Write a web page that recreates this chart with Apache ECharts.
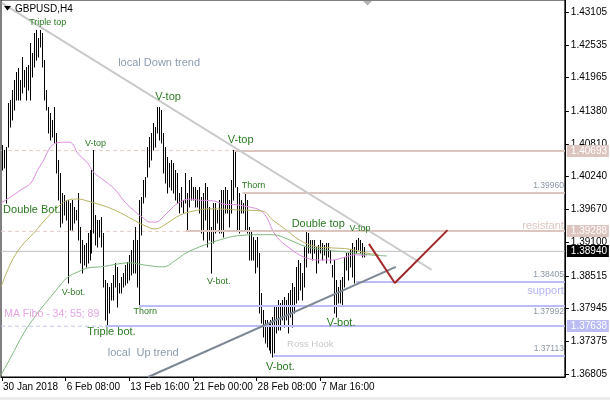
<!DOCTYPE html>
<html><head><meta charset="utf-8">
<script src="https://cdn.jsdelivr.net/npm/echarts@6/dist/echarts.min.js"></script>
<style>html,body{margin:0;padding:0;background:#fff;}#c{width:610px;height:400px;}</style>
</head><body><div id="c"></div>
<script>
// ---------- data ----------
const xTickIndex = [0, 32, 64, 96, 128, 160];
const xTickLabels = ['30 Jan 2018', '6 Feb 08:00', '13 Feb 16:00', '21 Feb 00:00', '28 Feb 08:00', '7 Mar 16:00'];
const yTickValues = [1.43105, 1.42535, 1.41965, 1.41380, 1.40810, 1.40240, 1.39670, 1.39100, 1.38515, 1.37945, 1.37375, 1.36805];

const barHigh = [
1.4079,1.4070,1.4076,1.4152,1.4157,1.4175,1.4192,1.4206,1.4213,1.4192,
1.4232,1.4210,1.4215,1.4218,1.4257,1.4239,1.4274,1.4279,1.4265,1.4279,
1.4274,1.4227,1.4175,1.4145,1.4135,1.4123,1.4145,1.4100,1.4053,1.4030,
1.3996,1.3992,1.3983,1.3983,1.3978,1.3983,1.3971,1.3966,1.3996,1.3936,
1.3914,1.3905,1.3909,1.3926,1.3931,1.4036,1.4070,1.3957,1.3949,1.3949,
1.3954,1.3926,1.3844,1.3839,1.3832,1.3839,1.3853,1.3874,1.3867,1.3839,
1.3849,1.3856,1.3870,1.3876,1.3888,1.3896,1.3914,1.3936,1.3914,1.3983,
1.3989,1.4018,1.4023,1.4076,1.4093,1.4100,1.4117,1.4110,1.4145,1.4145,
1.4140,1.4100,1.4076,1.4058,1.4048,1.4053,1.4048,1.4036,1.4030,1.3996,
1.4006,1.3983,1.4030,1.3996,1.4018,1.4023,1.4006,1.4006,1.4001,1.4006,
1.3989,1.3996,1.4013,1.4006,1.3971,1.3936,1.3978,1.3978,1.3966,1.3983,
1.4001,1.4001,1.4006,1.4001,1.3983,1.4018,1.4070,1.4070,1.4006,1.3996,
1.3983,1.3978,1.3997,1.3983,1.3936,1.3931,1.3919,1.3914,1.3919,1.3891,
1.3822,1.3792,1.3775,1.3775,1.3769,1.3775,1.3780,1.3797,1.3797,1.3809,
1.3804,1.3809,1.3815,1.3809,1.3822,1.3827,1.3839,1.3832,1.3867,1.3879,
1.3874,1.3856,1.3902,1.3931,1.3926,1.3914,1.3914,1.3914,1.3902,1.3905,
1.3914,1.3909,1.3905,1.3909,1.3909,1.3896,1.3870,1.3879,1.3844,1.3832,
1.3844,1.3849,1.3884,1.3891,1.3891,1.3896,1.3909,1.3902,1.3914,1.3917,
1.3914,1.3909,1.3902];
const barLow = [
1.4036,1.4039,1.3978,1.4076,1.4110,1.4123,1.4140,1.4157,1.4157,1.4157,
1.4170,1.4180,1.4157,1.4175,1.4157,1.4197,1.4215,1.4227,1.4232,1.4250,
1.4215,1.4157,1.4140,1.4100,1.4088,1.4093,1.4083,1.4030,1.3983,1.3936,
1.3943,1.3957,1.3949,1.3839,1.3931,1.3931,1.3943,1.3949,1.3914,1.3874,
1.3856,1.3870,1.3867,1.3874,1.3879,1.3891,1.3926,1.3905,1.3902,1.3919,
1.3902,1.3832,1.3775,1.3766,1.3787,1.3809,1.3809,1.3832,1.3797,1.3822,
1.3822,1.3832,1.3836,1.3839,1.3844,1.3853,1.3856,1.3856,1.3832,1.3801,
1.3923,1.3978,1.3989,1.4023,1.4041,1.4053,1.4070,1.4076,1.4100,1.4088,
1.4083,1.4030,1.4013,1.3996,1.4006,1.4001,1.3996,1.3983,1.3978,1.3961,
1.3971,1.3961,1.3978,1.3931,1.3971,1.3983,1.3983,1.3971,1.3971,1.3961,
1.3926,1.3914,1.3949,1.3902,1.3914,1.3856,1.3909,1.3926,1.3943,1.3926,
1.3926,1.3919,1.3961,1.3961,1.3936,1.3961,1.3983,1.4006,1.3931,1.3926,
1.3961,1.3961,1.3931,1.3926,1.3879,1.3879,1.3879,1.3856,1.3867,1.3787,
1.3769,1.3745,1.3735,1.3728,1.3722,1.3717,1.3710,1.3717,1.3752,1.3757,
1.3757,1.3775,1.3762,1.3775,1.3752,1.3780,1.3762,1.3787,1.3804,1.3809,
1.3827,1.3809,1.3832,1.3867,1.3891,1.3891,1.3879,1.3891,1.3856,1.3874,
1.3891,1.3879,1.3888,1.3874,1.3884,1.3874,1.3849,1.3787,1.3780,1.3804,
1.3804,1.3801,1.3832,1.3862,1.3844,1.3867,1.3849,1.3839,1.3891,1.3896,
1.3891,1.3884,1.3884];

// moving averages 34 / 55 / 89
const ma34 = [[-0.5,1.3978],[4.5,1.3989],[9.5,1.4001],[14.5,1.4013],[18,1.4036],[21,1.4053],[24.5,1.4076],[28,1.4083],[33,1.4084],[35.5,1.4081],[38,1.4065],[43,1.4048],[46,1.4032],[49.5,1.4022],[53,1.4013],[57,1.4001],[61,1.3983],[66,1.3966],[71,1.3952],[74.5,1.3945],[77.5,1.3945],[81,1.3954],[84.5,1.3966],[88.5,1.3978],[94.5,1.3985],[99.5,1.3983],[106,1.3982],[112,1.3976],[118,1.3975],[124.5,1.3971],[129.5,1.3966],[133,1.3954],[136,1.3931],[139.5,1.3914],[144.5,1.3900],[149.5,1.3888],[154.5,1.3881],[159.5,1.3879],[166,1.3879],[172.5,1.3884],[177.5,1.3888],[183.5,1.3886]];
const ma55 = [[-0.5,1.3832],[4.5,1.3874],[9.5,1.3902],[16,1.3926],[23,1.3954],[28,1.3971],[33,1.3983],[38,1.3985],[44.5,1.3980],[53,1.3971],[59.5,1.3961],[66,1.3949],[71,1.3940],[77,1.3933],[83,1.3943],[89.5,1.3957],[96,1.3964],[104.5,1.3968],[119.5,1.3966],[131,1.3964],[136,1.3949],[143,1.3931],[149.5,1.3914],[158,1.3902],[166,1.3900],[174.5,1.3898],[183.5,1.3891],[189.5,1.3888]];
const ma89 = [[-0.5,1.3679],[4.5,1.3710],[11,1.3752],[18,1.3787],[24.5,1.3815],[29.5,1.3836],[33,1.3849],[38,1.3858],[43,1.3865],[49.5,1.3867],[64.5,1.3874],[72,1.3870],[81,1.3867],[87.5,1.3879],[92.5,1.3891],[99.5,1.3902],[106,1.3910],[112.5,1.3917],[118,1.3921],[128,1.3923],[136,1.3923],[144.5,1.3914],[153,1.3902],[163,1.3896],[173,1.3893],[184.5,1.3888],[193.5,1.3886]];

const downTrend = [[0, 1.4326], [216, 1.3862]];
const upTrend = [[73.5, 1.36754], [198, 1.3867]];
const forecast = [[184.5, 1.3907], [197.5, 1.3839], [224, 1.3931]];
const bidPrice = 1.38940;

const levelPrices = [1.40693, 1.39960, 1.39288, 1.38405, 1.37992, 1.37638, 1.37113];
const levelStart = [117, 121, 92.5, 178, 69, 52, 136.5];
const dashedLevels = [1.40693, 1.39288, 1.37638];
const tagPrices = [1.40693, 1.39288, 1.38940, 1.37638];

const noteText = ['Triple top','local Down trend','V-top','V-top','V-top','Thorn','Double Bot.','Double top','V-top','V-bot.','V-bot.','Thorn','Triple bot.','MA Fibo - 34; 55; 89','local  Up trend','V-bot.','V-bot.','Ross Hook','support','resistant'];
const noteAt = [[23,1.4293],[79,1.4222],[83.5,1.4163],[47,1.4081],[120,1.4088],[126.5,1.4009],[15,1.3966],[159,1.3942],[180,1.3933],[36,1.3823],[109,1.3841],[72,1.3789],[55,1.3754],[25,1.3785],[71,1.3717],[170.5,1.3769],[140,1.3693],[155,1.3733],[283,1.3825],[283,1.3938]];

// ---------- styles ----------
const X_MIN = -0.5, X_MAX = 283;
const FONT = '"Liberation Sans", Arial, sans-serif';
const ROSE = '#dcc5bf', LAV = '#bcbcf4';
const noteKind = ['s','g','b','s','b','s','b','b','s','s','s','s','b','p','g','b','b','r','sup','res'];
const noteStyle = {
  s: {size: 9, color: '#2a7a22', align: 'center'},
  b: {size: 11, color: '#2a7a22', align: 'center'},
  g: {size: 11, color: '#8c9cad', align: 'center'},
  p: {size: 10.5, color: '#e4a6e4', align: 'center'},
  r: {size: 9.5, color: '#c8c8c8', align: 'center'},
  sup: {size: 11, color: '#b4b4f0', align: 'right'},
  res: {size: 11, color: '#dcc5bf', align: 'right'}
};
const levelColor = [ROSE, ROSE, ROSE, LAV, LAV, LAV, LAV];
const levelLabel = [null, 'above', null, 'above', 'below', null, 'above'];
const tagFill = [ROSE, ROSE, '#000000', LAV];

const chart = echarts.init(document.getElementById('c'), null, {renderer: 'canvas'});

function lineSeries(data, color, width, z, extra) {
  return Object.assign({
    type: 'line', data: data, showSymbol: false, symbol: 'none', silent: true, z: z,
    lineStyle: {color: color, width: width}, animation: false
  }, extra || {});
}

const series = [];
// dashed level extensions
dashedLevels.forEach(p => {
  series.push(lineSeries([[X_MIN, p], [X_MAX, p]], p > 1.385 ? '#e2cdc7' : '#c4c4f6', 1, 1,
    {lineStyle: {color: p > 1.385 ? '#e2cdc7' : '#c4c4f6', width: 1, type: [4, 3]}}));
});
// bid line
series.push(lineSeries([[X_MIN, bidPrice], [X_MAX, bidPrice]], '#c0c0c0', 1, 1));

// price bars (high-low)
series.push({
  type: 'custom', z: 3, animation: false, silent: true, clip: true,
  data: barHigh.map((h, i) => [i, barLow[i], h]),
  encode: {x: 0, y: [1, 2]},
  renderItem: function (params, api) {
    const lo = api.coord([api.value(0), api.value(1)]);
    const hi = api.coord([api.value(0), api.value(2)]);
    const x = Math.round(lo[0]) + 0.5;
    return {type: 'line', shape: {x1: x, y1: Math.round(lo[1]) + 0.5, x2: x, y2: Math.round(hi[1])}, style: {stroke: '#000', lineWidth: 1}};
  }
});

// moving averages
series.push(lineSeries(ma34, '#dc8ce0', 1, 4, {smooth: 0.4}));
series.push(lineSeries(ma55, '#b8b264', 1, 4, {smooth: 0.4}));
series.push(lineSeries(ma89, '#80b880', 1, 4, {smooth: 0.4}));

// horizontal levels
series.push({
  type: 'custom', z: 5, animation: false, silent: true, clip: true,
  data: levelPrices.map((p, k) => [levelStart[k], p]),
  renderItem: function (params, api) {
    const k = params.dataIndex;
    const a = api.coord([api.value(0), api.value(1)]);
    const b = api.coord([X_MAX, api.value(1)]);
    const y = Math.round(a[1]);
    const ch = [{type: 'line', shape: {x1: a[0], y1: y, x2: b[0], y2: y}, style: {stroke: levelColor[k], lineWidth: 2}}];
    if (levelLabel[k]) {
      ch.push({type: 'text', x: b[0] - 1, y: levelLabel[k] === 'above' ? y - 7 : y + 6,
        style: {text: levelPrices[k].toFixed(5), fill: '#8a96a4', font: '8.5px ' + FONT, align: 'right', verticalAlign: 'middle'}});
    }
    return {type: 'group', children: ch};
  }
});

// trend lines and forecast
series.push(lineSeries(downTrend, '#c9c9c9', 2, 6));
series.push(lineSeries(upTrend, '#7d8894', 2, 6));
series.push(lineSeries(forecast, '#a3282a', 2, 6));

// text notes
series.push({
  type: 'custom', z: 7, animation: false, silent: true, clip: false,
  data: noteAt,
  renderItem: function (params, api) {
    const k = params.dataIndex;
    const st = noteStyle[noteKind[k]];
    const pt = api.coord([api.value(0), api.value(1)]);
    return {type: 'text', x: st.align === 'right' ? pt[0] - 1 : pt[0], y: pt[1],
      style: {text: noteText[k], fill: st.color, font: st.size + 'px ' + FONT, align: st.align, verticalAlign: 'middle'}};
  }
});

// price tags on right axis
series.push({
  type: 'custom', z: 8, animation: false, silent: true, clip: false,
  data: tagPrices.map(p => [X_MAX, p]),
  renderItem: function (params, api) {
    const k = params.dataIndex;
    const pt = api.coord([api.value(0), api.value(1)]);
    const y = Math.round(pt[1]);
    return {type: 'group', children: [
      {type: 'rect', shape: {x: pt[0] + 2, y: y - 6, width: 42, height: 12}, style: {fill: tagFill[k]}},
      {type: 'text', x: pt[0] + 6, y: y, style: {text: tagPrices[k].toFixed(5), fill: '#fff', font: '10px ' + FONT, align: 'left', verticalAlign: 'middle'}}
    ]};
  }
});

chart.setOption({
  animation: false,
  backgroundColor: '#fff',
  grid: {left: 0, top: 0, right: 43, bottom: 23, show: true, borderColor: '#000', borderWidth: 1, backgroundColor: 'transparent'},
  xAxis: {
    type: 'value', min: X_MIN, max: X_MAX, splitLine: {show: false},
    axisLine: {show: true, onZero: false, lineStyle: {color: '#000'}},
    axisTick: {show: true, customValues: xTickIndex, length: 4, lineStyle: {color: '#000'}},
    axisLabel: {show: true, customValues: xTickIndex, formatter: v => xTickLabels[xTickIndex.indexOf(v)] || '',
      align: 'left', margin: 5, color: '#000', fontSize: 10, fontFamily: FONT, padding: [0, 0, 0, 1]}
  },
  yAxis: {
    type: 'value', position: 'right', min: 1.36754, max: 1.433138, scale: true, splitLine: {show: false},
    axisLine: {show: true, onZero: false, lineStyle: {color: '#000'}},
    axisTick: {show: true, customValues: yTickValues, length: 4, lineStyle: {color: '#000'}},
    axisLabel: {show: true, customValues: yTickValues, formatter: v => v.toFixed(5), margin: 6,
      color: '#000', fontSize: 10, fontFamily: FONT}
  },
  graphic: [
    {type: 'polygon', shape: {points: [[4, 6], [11, 6], [7.5, 10.5]]}, style: {fill: '#000'}, z: 10},
    {type: 'text', x: 15, y: 9, style: {text: 'GBPUSD,H4', fill: '#000', font: '10px ' + FONT, verticalAlign: 'middle'}, z: 10},
    {type: 'polygon', shape: {points: [[363, 1], [372, 1], [367.5, 5.5]]}, style: {fill: '#b4b4b4'}, z: 10},
    {type: 'rect', shape: {x: 0, y: 397, width: 610, height: 3}, style: {fill: '#ececec'}, z: 10}
  ],
  series: series
});
</script></body></html>
